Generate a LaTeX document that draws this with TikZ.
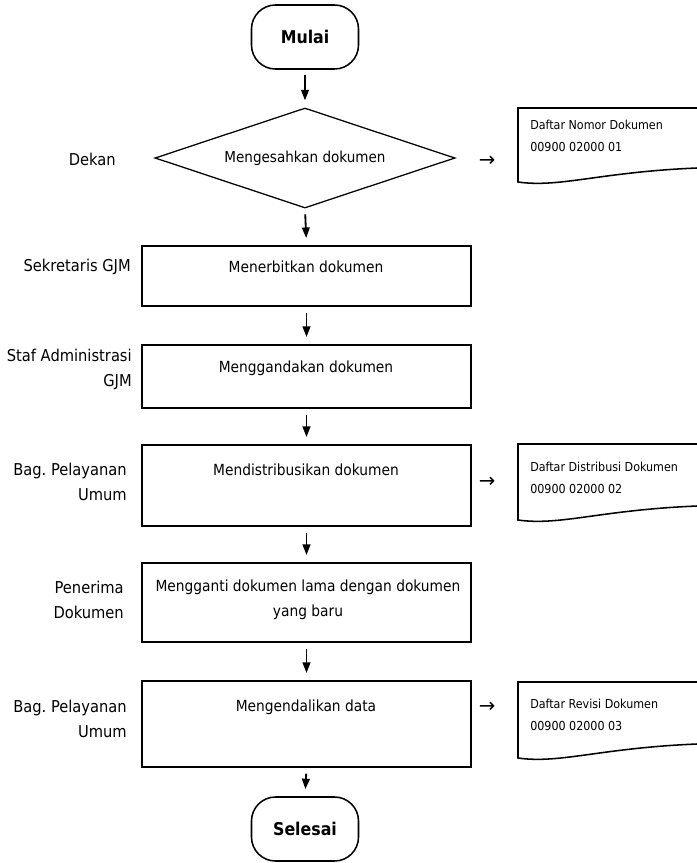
\documentclass[tikz,border=0pt]{standalone}
\usepackage{fontspec}
\setmainfont{DejaVu Sans Condensed}
\newfontfamily\symfont{DejaVu Sans}
\usetikzlibrary{shapes.geometric,arrows.meta}
\frenchspacing
\begin{document}
\begin{tikzpicture}[x=0.025cm,y=-0.025cm,
  term/.style={draw,line width=1.1pt,rounded corners=0.6cm,minimum width=2.675cm,minimum height=1.6cm,inner sep=0pt,font=\fontsize{12.5}{14}\selectfont\bfseries},
  procbox/.style={draw,line width=1.4pt,minimum width=8.225cm,inner sep=0pt},
  dec/.style={draw,diamond,line width=0.9pt,minimum width=7.5cm,minimum height=2.5cm,aspect=3,inner sep=0pt,font=\fontsize{10.7}{12}\selectfont},
  txt/.style={font=\fontsize{10.9}{17.5}\selectfont,align=center,inner sep=0pt},
  lbl/.style={font=\fontsize{11.6}{17.8}\selectfont,align=right,anchor=east,inner sep=0pt},
  doctxt/.style={font=\fontsize{8.8}{15.5}\selectfont,align=left,anchor=north west,inner sep=0pt},
  docline/.style={line width=1.1pt},
  sym/.style={font=\symfont\fontsize{14}{16}\selectfont,inner sep=0pt},
  arr/.style={line width=1.3pt,-{Triangle[length=7.5pt,width=5.5pt]},shorten <=4pt,shorten >=5pt}]
\useasboundingbox (0,0) rectangle (697,863);

% terminals
\node[term] (mulai) at (305,37) {Mulai};
\node[term] (selesai) at (305,829) {Selesai};

% decision
\node[dec] (d) at (305,158) {Mengesahkan dokumen};

% process boxes
\node[procbox,minimum height=1.5cm] (b1) at (306.5,276) {};
\node[procbox,minimum height=1.575cm] (b2) at (306.5,376.5) {};
\node[procbox,minimum height=2.025cm] (b3) at (306.5,485.5) {};
\node[procbox,minimum height=1.975cm] (b4) at (306.5,602.5) {};
\node[procbox,minimum height=2.15cm] (b5) at (306.5,724) {};

\node[txt] (t1) at (306,267) {Menerbitkan dokumen};
\node[txt] (t2) at (306,368) {Menggandakan dokumen};
\node[txt] (t3) at (306,470) {Mendistribusikan dokumen};
\node[txt] (t4) at (308,600) {Mengganti dokumen lama dengan dokumen\\yang baru};
\node[txt] (t5) at (306,707) {Mengendalikan data};

% arrows
\draw[arr] (mulai.south) -- (d.north);
\draw[arr] (d.south) -- (b1.north);
\draw[arr] (b1.south) -- (b2.north);
\draw[arr] (b2.south) -- (b3.north);
\draw[arr] (b3.south) -- (b4.north);
\draw[arr] (b4.south) -- (b5.north);
\draw[arr] (b5.south) -- (selesai.north);

% role labels
\node[lbl] (l0) at (116,159) {Dekan};
\node[lbl] (l1) at (131,267) {Sekretaris GJM};
\node[lbl] (l2) at (132,369) {Staf Administrasi\\GJM};
\node[lbl] (l3) at (127,482) {Bag. Pelayanan\\Umum};
\node[lbl] (l4) at (124,600) {Penerima\\Dokumen};
\node[lbl] (l5) at (127,719) {Bag. Pelayanan\\Umum};

% small arrows
\node[sym] (s1) at (487,161) {→};
\node[sym] (s2) at (487,482) {→};
\node[sym] (s3) at (487,707) {→};

% documents
\draw[docline] (697,108) -- (518,108) -- (518,182) .. controls (560,188) and (600,172) .. (697,168);
\node[doctxt] (dt1) at (530,120) {Daftar Nomor Dokumen\\00900 02000 01};
\draw[docline] (697,444) -- (518,444) -- (518,520) .. controls (560,526) and (600,510) .. (697,506);
\node[doctxt] (dt2) at (530,462) {Daftar Distribusi Dokumen\\00900 02000 02};
\draw[docline] (697,682) -- (518,682) -- (518,758) .. controls (560,764) and (600,748) .. (697,744);
\node[doctxt] (dt3) at (530,699) {Daftar Revisi Dokumen\\00900 02000 03};
\end{tikzpicture}
\end{document}
